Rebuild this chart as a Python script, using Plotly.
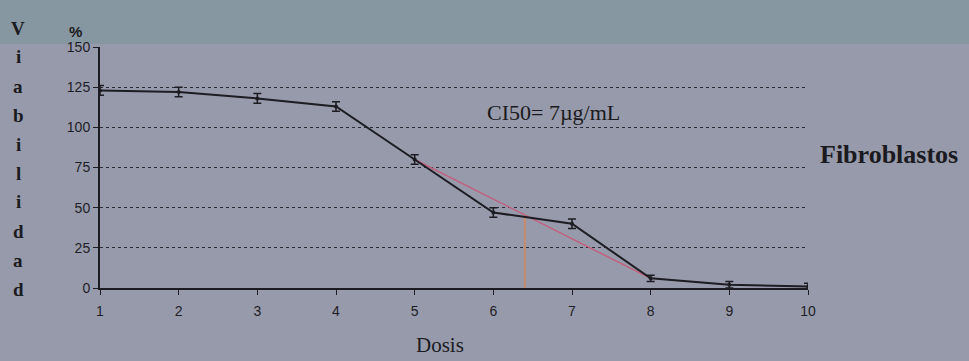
import plotly.graph_objects as go

doses = [1, 2, 3, 4, 5, 6, 7, 8, 9, 10]
viability = [123, 122, 118, 113, 80, 47, 40, 6, 2, 1]
errors = [3, 3, 3, 3, 3, 3, 3, 2, 2, 2]
trend_x = [5, 8]
trend_y = [80, 6]
ci50_x = [6.4, 6.4]
ci50_y = [0, 45]
y_letters = ["V", "i", "a", "b", "i", "l", "i", "d", "a", "d"]
x_ticks = [1, 2, 3, 4, 5, 6, 7, 8, 9, 10]
y_ticks = [0, 25, 50, 75, 100, 125, 150]

W, H = 969, 361
L, R, T, B = 100, 161, 47, 73
pw, ph = W - L - R, H - T - B

def px_to_paper(px, py):
    return (px - L) / pw, (H - B - py) / ph

fig = go.Figure()
fig.add_trace(go.Scatter(x=trend_x, y=trend_y, mode="lines",
                         line=dict(color="#c2607e", width=1.5), showlegend=False))
fig.add_trace(go.Scatter(x=ci50_x, y=ci50_y, mode="lines",
                         line=dict(color="#c98a6a", width=2), showlegend=False))
fig.add_trace(go.Scatter(x=doses, y=viability, mode="lines+markers",
                         line=dict(color="#1c1c22", width=2),
                         marker=dict(size=4, color="#1c1c22"),
                         error_y=dict(type="data", array=errors, color="#1c1c22",
                                      thickness=1.5, width=4),
                         showlegend=False))

# photo top band
x0, y0 = px_to_paper(0, 0)
x1, y1 = px_to_paper(W, 44)
fig.add_shape(type="rect", xref="paper", yref="paper", x0=x0, y0=y1, x1=x1, y1=y0,
              fillcolor="#8797a1", line_width=0, layer="below")

for i, ch in enumerate(y_letters):
    ax, ay = px_to_paper(18, 28 + 29 * i)
    fig.add_annotation(x=ax, y=ay, xref="paper", yref="paper", text="<b>" + ch + "</b>", showarrow=False,
                       xanchor="center", yanchor="middle",
                       font=dict(family="Liberation Serif", size=19, color="#1a1a20"))

ax, ay = px_to_paper(67, 21)
fig.add_annotation(x=ax, y=ay, xref="paper", yref="paper", text="<b>%</b>", showarrow=False,
                   font=dict(family="Liberation Sans", size=15, color="#1a1a20"))
ax, ay = px_to_paper(440, 345)
fig.add_annotation(x=ax, y=ay, xref="paper", yref="paper", text="Dosis", showarrow=False,
                   xanchor="center", yanchor="middle",
                   font=dict(family="Liberation Serif", size=21, color="#1a1a20"))
fig.add_annotation(x=6.77, y=109, xref="x", yref="y", text="CI50= 7µg/mL", xanchor="center",
                   showarrow=False, font=dict(family="Liberation Serif", size=22, color="#1a1a20"))
fig.add_annotation(x=1.0, y=83, xref="paper", yref="y", text="<b>Fibroblastos</b>", xanchor="left",
                   xshift=10, showarrow=False, font=dict(family="Liberation Serif", size=26, color="#1a1a20"))

fig.update_layout(
    width=W, height=H,
    margin=dict(l=L, r=R, t=T, b=B),
    paper_bgcolor="#979aab", plot_bgcolor="rgba(0,0,0,0)",
    font=dict(family="Liberation Sans", size=14, color="#1e1e26"),
    xaxis=dict(range=[1, 10], tickvals=x_ticks, showgrid=False, zeroline=False, automargin=False,
               showline=True, linecolor="#1c1c22", linewidth=2,
               ticks="outside", ticklen=5, tickcolor="#1c1c22", ticklabelstandoff=4),
    yaxis=dict(range=[0, 150], tickvals=y_ticks, showgrid=True, gridcolor="#2a2a35",
               griddash="dot", gridwidth=1.3, zeroline=False, automargin=False,
               showline=True, linecolor="#1c1c22", linewidth=2,
               ticks="outside", ticklen=5, tickcolor="#1c1c22"),
)

fig.write_html("out.html", config={"displayModeBar": False},
               post_script="document.body.style.margin='0';document.body.style.background='#979aab';")
